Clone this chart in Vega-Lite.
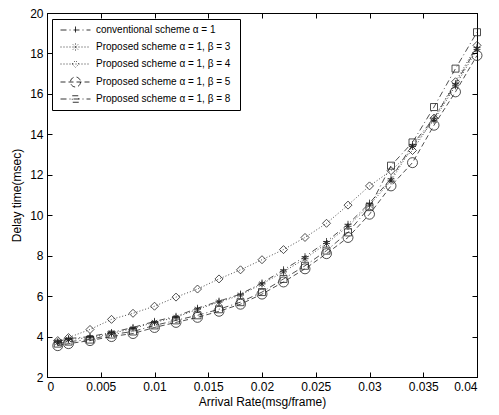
{
  "$schema": "https://vega.github.io/schema/vega-lite/v6.json",
  "width": 430,
  "height": 364,
  "autosize": "none",
  "padding": {"left": 47, "top": 13, "right": 22, "bottom": 38},
  "background": "white",
  "config": {
    "font": "Liberation Sans",
    "view": {"stroke": "black", "strokeWidth": 1},
    "point": {"filled": false, "strokeWidth": 0.8, "color": "#222", "size": 100, "opacity": 1},
    "axis": {
      "grid": false,
      "domainColor": "black",
      "tickColor": "black",
      "tickSize": -5,
      "labelPadding": 9,
      "labelFont": "Liberation Sans",
      "labelFontSize": 12,
      "labelColor": "black",
      "titleFont": "Liberation Sans",
      "titleFontSize": 12,
      "titleFontWeight": "normal",
      "titleColor": "black"
    }
  },
  "data": {
    "values": [
      {"x": 0.001, "c": 3.75, "b3": 3.7, "b4": 3.8, "b5": 3.55, "b8": 3.65},
      {"x": 0.002, "c": 3.9, "b3": 3.85, "b4": 3.95, "b5": 3.65, "b8": 3.75},
      {"x": 0.004, "c": 4.0, "b3": 3.95, "b4": 4.35, "b5": 3.8, "b8": 3.85},
      {"x": 0.006, "c": 4.2, "b3": 4.15, "b4": 4.85, "b5": 4.0, "b8": 4.1},
      {"x": 0.008, "c": 4.45, "b3": 4.4, "b4": 5.15, "b5": 4.15, "b8": 4.25},
      {"x": 0.010, "c": 4.75, "b3": 4.7, "b4": 5.5, "b5": 4.45, "b8": 4.55},
      {"x": 0.012, "c": 5.0, "b3": 4.95, "b4": 5.95, "b5": 4.7, "b8": 4.8},
      {"x": 0.014, "c": 5.4, "b3": 5.35, "b4": 6.35, "b5": 4.95, "b8": 5.05},
      {"x": 0.016, "c": 5.75, "b3": 5.7, "b4": 6.85, "b5": 5.25, "b8": 5.35},
      {"x": 0.018, "c": 6.1, "b3": 6.05, "b4": 7.3, "b5": 5.6, "b8": 5.7},
      {"x": 0.020, "c": 6.65, "b3": 6.6, "b4": 7.8, "b5": 6.1, "b8": 6.2},
      {"x": 0.022, "c": 7.3, "b3": 7.2, "b4": 8.3, "b5": 6.7, "b8": 6.85},
      {"x": 0.024, "c": 7.95, "b3": 7.85, "b4": 8.9, "b5": 7.35, "b8": 7.5},
      {"x": 0.026, "c": 8.7, "b3": 8.6, "b4": 9.6, "b5": 8.1, "b8": 8.25},
      {"x": 0.028, "c": 9.55, "b3": 9.45, "b4": 10.5, "b5": 8.9, "b8": 9.15},
      {"x": 0.030, "c": 10.6, "b3": 10.5, "b4": 11.45, "b5": 10.05, "b8": 10.4},
      {"x": 0.032, "c": 11.8, "b3": 11.7, "b4": 12.2, "b5": 11.45, "b8": 12.45},
      {"x": 0.034, "c": 13.5, "b3": 13.4, "b4": 13.2, "b5": 12.6, "b8": 13.6},
      {"x": 0.036, "c": 14.8, "b3": 14.7, "b4": 14.8, "b5": 14.45, "b8": 15.35},
      {"x": 0.038, "c": 16.5, "b3": 16.4, "b4": 16.6, "b5": 16.1, "b8": 17.25},
      {"x": 0.040, "c": 18.3, "b3": 18.2, "b4": 18.4, "b5": 17.9, "b8": 19.05}
    ]
  },
  "transform": [{"fold": ["c", "b3", "b4", "b5", "b8"], "as": ["series", "y"]}],
  "encoding": {
    "x": {"field": "x", "type": "quantitative", "scale": {"domain": [0, 0.04], "nice": false}, "axis": null},
    "y": {"field": "y", "type": "quantitative", "scale": {"domain": [2, 20], "nice": false, "zero": false}, "axis": null}
  },
  "layer": [
    {
      "mark": {"type": "line", "strokeWidth": 0.8, "color": "#222"},
      "encoding": {
        "x": {
          "field": "x", "type": "quantitative",
          "axis": {"values": [0, 0.005, 0.01, 0.015, 0.02, 0.025, 0.03, 0.035, 0.04], "format": "~g", "title": "Arrival Rate(msg/frame)", "titlePadding": 4}
        },
        "y": {
          "field": "y", "type": "quantitative",
          "axis": {"values": [2, 4, 6, 8, 10, 12, 14, 16, 18, 20], "title": "Delay time(msec)", "titlePadding": 6}
        },
        "strokeDash": {
          "field": "series", "type": "nominal",
          "scale": {"domain": ["c", "b3", "b4", "b5", "b8"], "range": [[6, 3, 1, 3], [1, 2], [1, 2], [5, 3], [6, 3, 1, 3]]},
          "legend": {
            "orient": "none", "legendX": 5, "legendY": 6, "title": null,
            "strokeColor": "black", "fillColor": "white", "padding": 6,
            "labelFont": "Liberation Sans", "labelFontSize": 10, "labelColor": "black",
            "symbolSize": 25, "labelOffset": 28, "rowPadding": 5,
            "symbolStrokeColor": "black", "symbolStrokeWidth": 0.8, "symbolFillColor": "transparent",
            "labelExpr": "['conventional scheme  α = 1','Proposed scheme  α = 1, β = 3','Proposed scheme  α = 1, β = 4','Proposed scheme  α = 1, β = 5','Proposed scheme  α = 1, β = 8'][indexof(['c','b3','b4','b5','b8'], datum.value)]",
            "encode": {
              "symbols": {
                "update": {
                  "shape": {"signal": "['M-1,0L11,0M5,-1.4L5,1.4','M-1,0L11,0M5,-1.4L5,1.4M4,-1L6,1M4,1L6,-1','M-1,0L11,0M3.6,0L5,-1.4L6.4,0L5,1.4Z','M-1,0L11,0M7,0A2,2,0,1,1,3,0A2,2,0,1,1,7,0','M-1,0L11,0M3.7,-1.3L6.3,-1.3L6.3,1.3L3.7,1.3Z'][indexof(['c','b3','b4','b5','b8'], datum.value)]"},
                  "fill": {"value": "transparent"},
                  "stroke": {"value": "black"},
                  "strokeWidth": {"value": 0.8}
                }
              }
            }
          }
        }
      }
    },
    {
      "transform": [{"filter": "datum.series == 'c'"}],
      "mark": {"type": "point", "shape": "M-0.7,0L0.7,0M0,-0.7L0,0.7"}
    },
    {
      "transform": [{"filter": "datum.series == 'b3'"}],
      "mark": {"type": "point", "shape": "M-0.7,0L0.7,0M0,-0.7L0,0.7M-0.5,-0.5L0.5,0.5M-0.5,0.5L0.5,-0.5"}
    },
    {
      "transform": [{"filter": "datum.series == 'b4'"}],
      "mark": {"type": "point", "shape": "M-0.8,0L0,-0.8L0.8,0L0,0.8Z"}
    },
    {
      "transform": [{"filter": "datum.series == 'b5'"}],
      "mark": {"type": "point", "shape": "M1,0A1,1,0,1,1,-1,0A1,1,0,1,1,1,0Z"}
    },
    {
      "transform": [{"filter": "datum.series == 'b8'"}],
      "mark": {"type": "point", "shape": "M-0.7,-0.7L0.7,-0.7L0.7,0.7L-0.7,0.7Z"}
    },
    {
      "mark": {"type": "point", "opacity": 0},
      "encoding": {
        "x": {"field": "x", "type": "quantitative", "axis": {"orient": "top", "labels": false, "title": null, "values": [0, 0.005, 0.01, 0.015, 0.02, 0.025, 0.03, 0.035, 0.04]}},
        "y": {"field": "y", "type": "quantitative", "axis": {"orient": "right", "labels": false, "title": null, "values": [2, 4, 6, 8, 10, 12, 14, 16, 18, 20]}}
      }
    }
  ],
  "resolve": {"axis": {"x": "independent", "y": "independent"}}
}
